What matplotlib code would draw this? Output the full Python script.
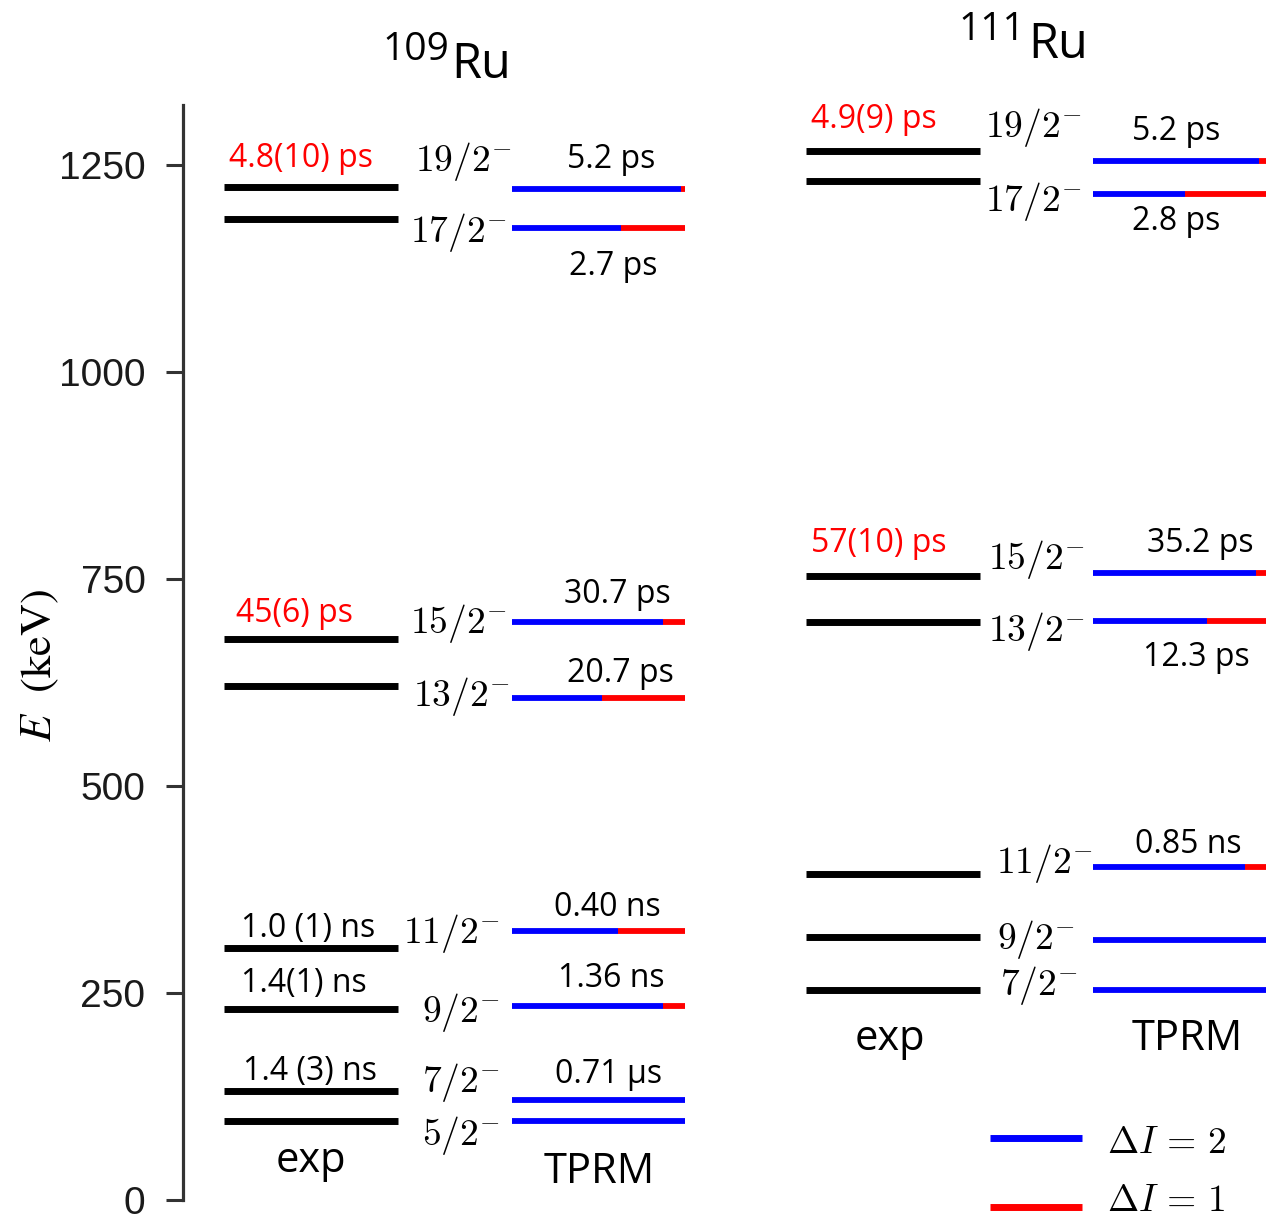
import numpy as np
import matplotlib
matplotlib.use("Agg")
import matplotlib.pyplot as plt
from matplotlib.lines import Line2D

# level energies (keV), spins and lifetimes, lowest level first
spins_109 = ["5/2", "7/2", "9/2", "11/2", "13/2", "15/2", "17/2", "19/2"]
exp_109 = [95, 131, 230, 304, 620, 677, 1185, 1223]
tprm_109 = [95, 120, 234, 325, 606, 698, 1174, 1221]
dI1_109 = [0.0, 0.0, 0.13, 0.39, 0.48, 0.13, 0.37, 0.025]   # share of dI=1 branch
life_exp_109 = ["", "1.4 (3) ns", "1.4(1) ns", "1.0 (1) ns", "", "45(6) ps", "", "4.8(10) ps"]
new_exp_109 = [False, False, False, False, False, True, False, True]
life_tprm_109 = ["", "0.71 µs", "1.36 ns", "0.40 ns", "20.7 ps", "30.7 ps", "2.7 ps", "5.2 ps"]

spins_111 = ["7/2", "9/2", "11/2", "13/2", "15/2", "17/2", "19/2"]
exp_111 = [253, 317, 393, 698, 753, 1231, 1267]
tprm_111 = [253, 314, 402, 699, 757, 1215, 1255]
dI1_111 = [0.0, 0.0, 0.12, 0.34, 0.06, 0.47, 0.04]
life_exp_111 = ["", "", "", "", "57(10) ps", "", "4.9(9) ps"]
new_exp_111 = [False, False, False, False, True, False, True]
life_tprm_111 = ["", "", "0.85 ns", "12.3 ps", "35.2 ps", "2.8 ps", "5.2 ps"]

yticks = [0, 250, 500, 750, 1000, 1250]

W, H, DPI = 1266, 1220, 100
Y0, YTOP, SCALE = 1199.5, 105, 0.8275   # pixel row of 0 keV, top of axis, px per keV
PT = 72.0 / DPI

TXT = "Open Sans"
BLUE, RED = "#0000ff", "#ff0000"

# label placement: (x centre in px, shift in px above the level)
lab_exp_109 = {1: (310, 11), 2: (304, 17), 3: (308, 11), 5: (294, 17), 7: (301, 20)}
lab_tprm_109 = {1: (609, 17), 2: (611, 19), 3: (607, 15), 4: (620, 16),
                5: (617, 19), 6: (613, -47), 7: (611, 21)}
spin_pos_109 = [(500, -24), (500, 8), (500, -16), (500, -12),
                (510, -8), (507, -11), (507, -14), (512, 18)]
lab_exp_111 = {4: (879, 24), 6: (874, 23)}
lab_tprm_111 = {2: (1188, 14), 3: (1196, -45), 4: (1200, 21), 5: (1176, -36), 6: (1176, 21)}
spin_pos_111 = [(1078, -5), (1075, -9), (1093, -6), (1085, -20),
                (1085, 4), (1082, -17), (1082, 24)]

fig = plt.figure(figsize=(W / DPI, H / DPI), dpi=DPI)
ax = fig.add_axes([183 / W, (H - Y0) / H, (W - 183) / W, (Y0 - YTOP) / H])
ax.set_xlim(183, W)
ax.set_ylim(0, (Y0 - YTOP) / SCALE)

for s in ["top", "right", "bottom"]:
    ax.spines[s].set_visible(False)
ax.spines["left"].set_linewidth(2.3)
ax.spines["left"].set_color("#333333")
ax.set_xticks([])
ax.set_yticks(yticks)
ax.tick_params(axis="y", direction="out", length=12, width=2.2, color="#333333",
               pad=15, labelsize=28, labelcolor="#1a1a1a")
for t in ax.get_yticklabels():
    t.set_fontfamily("Liberation Sans")


def label(text, x, e, dy, color="black", size=23, ha="center", math=False):
    kw = dict(math_fontfamily="cm") if math else dict(family=TXT)
    ax.annotate(text, xy=(x, e), xytext=(0, dy * PT), textcoords="offset points",
                ha=ha, va="baseline", fontsize=size, color=color,
                annotation_clip=False, **kw)


def scheme(exp_e, tprm_e, frac, spins, life_e, new_e, life_t,
           lab_e, lab_t, spin_pos, xe, xt):
    ax.hlines(exp_e, xe[0], xe[1], color="black", lw=5, capstyle="butt", clip_on=False)
    tprm_e = np.asarray(tprm_e)
    split = xt[0] + (1 - np.asarray(frac)) * (xt[1] - xt[0])
    ax.hlines(tprm_e, xt[0], split, color=BLUE, lw=4.2, capstyle="butt", clip_on=False)
    red = np.asarray(frac) > 0
    ax.hlines(tprm_e[red], split[red], xt[1], color=RED, lw=4.2, capstyle="butt",
              clip_on=False)
    for i, txt in enumerate(life_e):
        if txt:
            x, dy = lab_e[i]
            label(txt, x, exp_e[i], dy, color=RED if new_e[i] else "black")
    for i, txt in enumerate(life_t):
        if txt:
            x, dy = lab_t[i]
            label(txt, x, tprm_e[i], dy)
    for i, sp in enumerate(spins):
        x, dy = spin_pos[i]
        label(r"$%s^{-}$" % sp, x, tprm_e[i], dy, size=27, ha="right", math=True)


scheme(exp_109, tprm_109, dI1_109, spins_109, life_exp_109, new_exp_109, life_tprm_109,
       lab_exp_109, lab_tprm_109, spin_pos_109, (224, 398), (512, 685))
scheme(exp_111, tprm_111, dI1_111, spins_111, life_exp_111, new_exp_111, life_tprm_111,
       lab_exp_111, lab_tprm_111, spin_pos_111, (806, 980), (1093, 1266))


def ftext(x, y, s, **kw):
    fig.text(x / W, 1 - y / H, s, **kw)


# nucleus names
ftext(449, 60, "109", ha="right", va="baseline", fontsize=28, family=TXT)
ftext(451, 78, "Ru", ha="left", va="baseline", fontsize=35, family=TXT)
ftext(1025, 40, "111", ha="right", va="baseline", fontsize=28, family=TXT)
ftext(1028, 58, "Ru", ha="left", va="baseline", fontsize=35, family=TXT)

# column captions
ftext(311, 1172, "exp", ha="center", va="baseline", fontsize=30, family=TXT)
ftext(599, 1183, "TPRM", ha="center", va="baseline", fontsize=30, family=TXT)
ftext(890, 1050, "exp", ha="center", va="baseline", fontsize=30, family=TXT)
ftext(1187, 1050, "TPRM", ha="center", va="baseline", fontsize=30, family=TXT)

# energy axis title
ftext(40, 665, r"$E$  (keV)", rotation=90, ha="center", va="center", fontsize=32,
      family="STIXGeneral", math_fontfamily="stix")

# legend for the transition types
for yl, col, lab, yb in [(1138, BLUE, r"$\Delta I\,=\,2$", 1153),
                         (1207, RED, r"$\Delta I\,=\,1$", 1211)]:
    fig.add_artist(Line2D([990 / W, 1082 / W], [1 - yl / H] * 2, color=col, lw=5,
                          solid_capstyle="butt"))
    ftext(1107, yb, lab, ha="left", va="baseline", fontsize=27, math_fontfamily="cm")

fig.savefig("out.png", dpi=DPI)
